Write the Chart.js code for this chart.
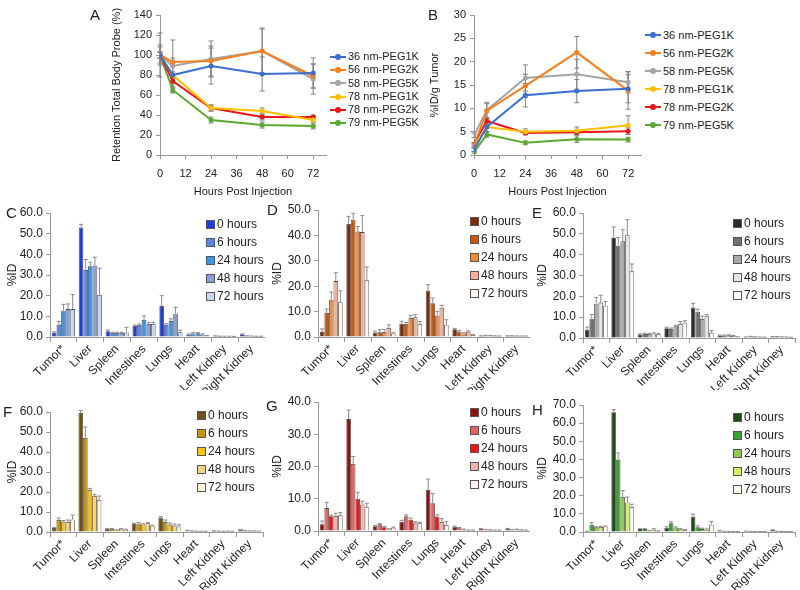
<!DOCTYPE html>
<html>
<head>
<meta charset="utf-8">
<script src="https://cdn.jsdelivr.net/npm/chart.js@4.4.0/dist/chart.umd.min.js"></script>
<style>
body{margin:0;background:#fff;width:800px;height:590px;position:relative;overflow:hidden;font-family:"Liberation Sans",Arial,sans-serif;color:#222}
canvas{position:absolute}
.letter{position:absolute;font-size:15px}
.leg{position:absolute;font-size:12px;line-height:18px}
.leg div{white-space:nowrap;display:flex;align-items:center}
.sw{display:inline-block;width:7px;height:7px;border:1px solid #555;margin-right:2px}
.ln{display:inline-block;width:16px;height:2px;position:relative;margin-right:2px}
.ln i{position:absolute;left:5px;top:-2px;width:6px;height:6px;border-radius:50%;background:inherit}
</style>
</head>
<body>
<canvas id="cA" width="330" height="200" style="left:0;top:0"></canvas>
<canvas id="cB" width="245" height="200" style="left:400px;top:0"></canvas>
<canvas id="cC" width="265" height="195" style="left:0;top:195px"></canvas>
<canvas id="cD" width="265" height="195" style="left:265px;top:195px"></canvas>
<canvas id="cE" width="270" height="195" style="left:530px;top:195px"></canvas>
<canvas id="cF" width="265" height="200" style="left:0;top:390px"></canvas>
<canvas id="cG" width="265" height="200" style="left:265px;top:390px"></canvas>
<canvas id="cH" width="270" height="200" style="left:530px;top:390px"></canvas>

<div class="letter" style="left:90px;top:6px">A</div>
<div class="letter" style="left:428px;top:6px">B</div>
<div class="letter" style="left:6px;top:204px">C</div>
<div class="letter" style="left:267px;top:201px">D</div>
<div class="letter" style="left:532px;top:204px">E</div>
<div class="letter" style="left:3px;top:403px">F</div>
<div class="letter" style="left:266px;top:397px">G</div>
<div class="letter" style="left:532px;top:401px">H</div>

<div class="leg" id="legA" style="left:330px;top:50px;font-size:11px;line-height:13.3px"></div>
<div class="leg" id="legB" style="left:645px;top:26px;font-size:11px;line-height:18px"></div>
<div class="leg" id="legC" style="left:206px;top:215px"></div>
<div class="leg" id="legD" style="left:470px;top:212px"></div>
<div class="leg" id="legE" style="left:733px;top:214px"></div>
<div class="leg" id="legF" style="left:197px;top:406px"></div>
<div class="leg" id="legG" style="left:470px;top:403px"></div>
<div class="leg" id="legH" style="left:733px;top:408px"></div>

<script>
// time course (A, B)
const hours = [0, 6, 24, 48, 72];
const hourTicks = [0, 12, 24, 36, 48, 60, 72];
const probes = ['36 nm-PEG1K', '56 nm-PEG2K', '58 nm-PEG5K', '78 nm-PEG1K', '78 nm-PEG2K', '79 nm-PEG5K'];
const lineColors = ['#3d6fd1', '#f5801e', '#a5a5a5', '#ffc000', '#e81818', '#5aaa32'];

const retention = [
  [100, 80, 89, 81, 82],
  [100, 93, 94, 104, 79],
  [100, 89, 96, 104, 76],
  [100, 80, 47, 44, 35],
  [100, 74, 47, 38, 38],
  [100, 65, 35, 30, 29]
];
const retentionErr = [
  [22, 12, 18, 17, 15],
  [8, 4, 15, 22, 12],
  [10, 26, 18, 23, 15],
  [3, 3, 3, 3, 2],
  [3, 3, 3, 3, 2],
  [3, 3, 3, 3, 3]
];
const tumorId = [
  [1.2, 6.0, 12.8, 13.7, 14.2],
  [2.0, 9.5, 14.8, 22.0, 13.8],
  [4.2, 9.6, 16.5, 17.3, 15.6],
  [1.8, 6.0, 5.0, 5.2, 6.4],
  [2.4, 7.3, 4.7, 4.9, 5.1],
  [0.6, 4.4, 2.6, 3.4, 3.3]
];
const tumorIdErr = [
  [0.5, 1.0, 2.5, 2.5, 3.0],
  [0.5, 1.5, 2.5, 3.4, 4.0],
  [0.5, 1.7, 2.8, 3.2, 2.3],
  [0.3, 1.0, 0.6, 0.8, 2.0],
  [0.3, 0.6, 0.4, 0.6, 0.7],
  [0.2, 0.6, 0.4, 0.7, 0.5]
];

// biodistribution (C-H), one row per time point, one value per organ
const organs = ['Tumor*', 'Liver', 'Spleen', 'Intestines', 'Lungs', 'Heart', 'Left Kidney', 'Right Kidney'];
const timeLabels = ['0 hours', '6 hours', '24 hours', '48 hours', '72 hours'];

const valuesC = [
  [2.0, 53.0, 2.8, 5.3, 15.0, 1.2, 0.5, 1.3],
  [6.0, 32.5, 2.0, 5.8, 5.8, 1.7, 0.3, 0.5],
  [12.8, 34.2, 2.0, 8.2, 7.8, 1.8, 0.3, 0.4],
  [13.5, 34.6, 2.0, 6.3, 11.3, 1.2, 0.3, 0.3],
  [13.5, 20.3, 2.2, 6.3, 2.3, 0.6, 0.2, 0.3]
];
const errC = [
  [0.5, 1.5, 0.6, 0.5, 5.0, 0.3, 0.1, 0.2],
  [1.5, 5.0, 0.3, 0.5, 0.6, 0.5, 0.1, 0.1],
  [3.0, 2.0, 0.3, 2.0, 1.0, 0.3, 0.1, 0.1],
  [2.5, 4.0, 0.3, 0.8, 3.0, 0.3, 0.1, 0.1],
  [7.0, 13.0, 2.5, 0.8, 1.0, 0.2, 0.1, 0.1]
];
const valuesD = [
  [2.0, 44.5, 1.8, 5.2, 18.3, 3.1, 0.4, 0.4],
  [9.5, 46.2, 1.9, 5.2, 13.3, 2.2, 0.6, 0.4],
  [14.7, 41.5, 2.0, 7.5, 8.5, 1.4, 0.5, 0.3],
  [22.0, 41.3, 3.6, 7.8, 11.5, 2.1, 0.4, 0.3],
  [13.7, 22.3, 1.4, 5.1, 4.8, 0.8, 0.3, 0.3]
];
const errD = [
  [1.2, 3.0, 0.5, 1.0, 2.3, 0.3, 0.1, 0.1],
  [1.5, 2.5, 1.0, 0.5, 2.0, 0.3, 0.1, 0.1],
  [3.0, 2.0, 1.0, 1.0, 1.5, 0.3, 0.1, 0.1],
  [3.3, 6.5, 1.2, 1.0, 1.0, 0.3, 0.1, 0.1],
  [4.5, 5.3, 0.3, 1.0, 2.0, 0.2, 0.1, 0.1]
];
const valuesE = [
  [4.0, 48.3, 1.7, 4.7, 14.6, 1.2, 0.4, 0.6],
  [9.3, 44.3, 2.0, 4.3, 12.6, 1.2, 0.7, 0.6],
  [16.5, 46.5, 1.9, 5.6, 9.2, 1.3, 0.5, 0.5],
  [17.0, 49.3, 2.2, 6.7, 10.5, 1.0, 0.4, 0.4],
  [15.5, 32.0, 1.8, 7.3, 2.6, 0.4, 0.3, 0.3]
];
const errE = [
  [1.2, 5.0, 0.3, 0.5, 2.0, 0.2, 0.1, 0.1],
  [2.0, 4.0, 0.3, 0.5, 1.2, 0.2, 0.1, 0.1],
  [3.0, 5.5, 0.3, 0.5, 1.3, 0.2, 0.1, 0.1],
  [3.5, 7.5, 0.3, 1.2, 0.8, 0.2, 0.1, 0.1],
  [2.0, 3.5, 0.3, 1.0, 1.0, 0.2, 0.1, 0.1]
];
const valuesF = [
  [2.0, 59.5, 1.6, 4.0, 7.2, 0.8, 0.5, 1.2],
  [6.0, 47.0, 1.5, 4.3, 5.0, 0.5, 0.4, 0.6],
  [5.2, 21.0, 0.9, 3.8, 3.7, 0.3, 0.3, 0.5],
  [5.0, 18.0, 1.6, 4.4, 3.2, 0.3, 0.4, 0.5],
  [6.3, 16.0, 1.2, 3.1, 2.8, 0.3, 0.3, 0.4]
];
const errF = [
  [0.3, 1.2, 0.2, 0.4, 0.5, 0.1, 0.1, 0.1],
  [1.0, 5.5, 0.2, 0.5, 1.0, 0.1, 0.1, 0.1],
  [0.5, 0.8, 0.2, 0.3, 0.8, 0.1, 0.1, 0.1],
  [1.0, 0.8, 0.2, 0.4, 0.8, 0.1, 0.1, 0.1],
  [2.2, 2.0, 0.2, 0.3, 0.8, 0.1, 0.1, 0.1]
];
const valuesG = [
  [2.1, 34.7, 1.5, 2.9, 12.7, 1.3, 0.7, 0.7],
  [7.1, 20.8, 2.1, 4.6, 8.6, 1.0, 0.4, 0.4],
  [4.6, 10.0, 1.2, 3.5, 4.5, 0.5, 0.3, 0.5],
  [4.7, 8.2, 0.5, 2.6, 2.8, 0.2, 0.2, 0.3],
  [4.9, 7.4, 1.0, 2.4, 1.9, 0.2, 0.2, 0.2]
];
const errG = [
  [1.0, 2.8, 0.2, 0.4, 3.4, 0.2, 0.1, 0.1],
  [1.8, 2.3, 0.2, 0.4, 3.0, 0.1, 0.1, 0.1],
  [0.3, 2.0, 0.2, 0.5, 0.5, 0.1, 0.1, 0.1],
  [0.8, 1.0, 0.2, 0.3, 1.0, 0.1, 0.1, 0.1],
  [0.8, 1.2, 0.2, 0.3, 1.0, 0.1, 0.1, 0.1]
];
const valuesH = [
  [0.3, 66.0, 1.6, 2.4, 8.4, 0.8, 0.4, 1.1],
  [4.2, 40.0, 1.6, 4.8, 2.6, 0.3, 0.3, 0.3],
  [2.6, 19.3, 0.7, 2.5, 1.6, 0.2, 0.2, 0.2],
  [2.8, 16.3, 1.2, 1.5, 1.2, 0.2, 0.2, 0.2],
  [3.0, 13.8, 0.5, 1.1, 4.0, 0.2, 0.2, 0.2]
];
const errH = [
  [0.1, 1.5, 0.2, 0.5, 1.5, 0.1, 0.1, 0.1],
  [1.0, 3.5, 0.2, 0.8, 0.8, 0.1, 0.1, 0.1],
  [0.3, 3.5, 0.2, 0.3, 0.5, 0.1, 0.1, 0.1],
  [0.3, 3.0, 0.6, 0.3, 0.5, 0.1, 0.1, 0.1],
  [0.3, 1.5, 0.2, 0.3, 1.8, 0.1, 0.1, 0.1]
];

const colorsC = ['#1e3fd8', '#5a86e6', '#3a96e6', '#8b9ed6', '#c9d5f2'];
const colorsD = ['#7a2c0c', '#c9560e', '#f28a3c', '#f5b09a', '#fff4ee'];
const colorsE = ['#2b2b2b', '#707070', '#a9a9a9', '#e6e6e6', '#ffffff'];
const colorsF = ['#6e5012', '#c8940c', '#f7c600', '#f5d27c', '#fdf3d8'];
const colorsG = ['#8c1212', '#e46464', '#f01414', '#f7b2aa', '#fff2f2'];
const colorsH = ['#1f4c16', '#38a232', '#8ec852', '#d8ee62', '#f6fbea'];

// error bars drawn from the y scale of each chart
function drawErrors(chart, opts) {
  const ctx = chart.ctx, y = chart.scales.y;
  ctx.save();
  ctx.strokeStyle = opts.color;
  ctx.lineWidth = 1;
  chart.data.datasets.forEach((ds, di) => {
    if (!ds.err) return;
    chart.getDatasetMeta(di).data.forEach((el, i) => {
      const v = ds.data[i];
      const val = typeof v === 'object' ? v.y : v;
      const e = ds.err[i];
      const top = y.getPixelForValue(val + e);
      const bot = opts.both ? y.getPixelForValue(val - e) : el.y;
      ctx.beginPath();
      ctx.moveTo(el.x, top); ctx.lineTo(el.x, bot);
      ctx.moveTo(el.x - opts.cap, top); ctx.lineTo(el.x + opts.cap, top);
      if (opts.both) { ctx.moveTo(el.x - opts.cap, bot); ctx.lineTo(el.x + opts.cap, bot); }
      ctx.stroke();
    });
  });
  ctx.restore();
}
const errorBars = {
  id: 'errorBars',
  beforeDatasetsDraw(chart, args, opts) { if (opts.behind) drawErrors(chart, opts); },
  afterDatasetsDraw(chart, args, opts) { if (!opts.behind) drawErrors(chart, opts); }
};

const axisGray = '#999';

function lineChart(id, padLeft, yWidth, yMax, yStep, series, errs, yTitle) {
  new Chart(document.getElementById(id), {
    type: 'line',
    data: {
      datasets: series.map((s, k) => ({
        label: probes[k],
        data: s.map((v, i) => ({ x: hours[i], y: v })),
        err: errs[k],
        borderColor: lineColors[k],
        backgroundColor: lineColors[k],
        borderWidth: 2,
        pointRadius: 2.5,
        pointBorderWidth: 0,
        tension: 0
      }))
    },
    options: {
      responsive: false,
      animation: false,
      layout: { padding: { left: padLeft, top: 15, right: 2, bottom: 0 } },
      plugins: {
        legend: { display: false },
        tooltip: { enabled: false },
        errorBars: { color: '#808080', cap: 2.5, both: true, behind: true }
      },
      scales: {
        x: {
          type: 'linear', min: 0, max: 78,
          afterBuildTicks: s => { s.ticks = hourTicks.map(v => ({ value: v })); },
          ticks: { color: '#222', font: { size: 11 }, padding: 8 },
          grid: { drawOnChartArea: false, tickLength: 4, color: axisGray },
          border: { color: axisGray },
          title: { display: true, text: 'Hours Post Injection', color: '#222', font: { size: 11 }, padding: { top: 6, bottom: 1 } },
          afterFit: s => { s.height = 45; }
        },
        y: {
          min: 0, max: yMax,
          ticks: { stepSize: yStep, color: '#222', font: { size: 11 }, padding: 4 },
          grid: { drawOnChartArea: false, tickLength: 4, color: axisGray },
          border: { color: axisGray },
          title: { display: true, text: yTitle, color: '#222', font: { size: 11 }, padding: 0 },
          afterFit: s => { s.width = yWidth; }
        }
      }
    },
    plugins: [errorBars]
  });
}

function barChart(id, yWidth, padTop, padRight, xHeight, yMax, series, errs, colors) {
  new Chart(document.getElementById(id), {
    type: 'bar',
    data: {
      labels: organs,
      datasets: series.map((s, k) => ({
        label: timeLabels[k],
        data: s,
        err: errs[k],
        backgroundColor: colors[k],
        borderColor: '#444',
        borderWidth: 0.8,
        categoryPercentage: 0.86,
        barPercentage: 1
      }))
    },
    options: {
      responsive: false,
      animation: false,
      layout: { padding: { left: 0, top: padTop, right: padRight, bottom: 0 } },
      plugins: {
        legend: { display: false },
        tooltip: { enabled: false },
        errorBars: { color: '#8a8a8a', cap: 2, both: false, behind: false }
      },
      scales: {
        x: {
          ticks: { minRotation: 45, maxRotation: 45, color: '#222', font: { size: 12 }, padding: 0 },
          grid: { offset: true, drawOnChartArea: false, tickLength: 5, color: axisGray },
          border: { color: axisGray },
          afterFit: s => { s.height = xHeight; }
        },
        y: {
          min: 0, max: yMax,
          ticks: { stepSize: 10, callback: v => v.toFixed(1), color: '#222', font: { size: 12 }, padding: 3 },
          grid: { drawOnChartArea: false, tickLength: 4, color: axisGray },
          border: { color: axisGray },
          title: { display: true, text: '%ID', color: '#222', font: { size: 12 }, padding: { top: 5, bottom: 0 } },
          afterFit: s => { s.width = yWidth; }
        }
      }
    },
    plugins: [errorBars]
  });
}

function lineLegend(id) {
  document.getElementById(id).innerHTML = probes.map((p, k) =>
    '<div><span class="ln" style="background:' + lineColors[k] + '"><i></i></span>' + p + '</div>').join('');
}
function barLegend(id, colors) {
  document.getElementById(id).innerHTML = timeLabels.map((t, k) =>
    '<div><span class="sw" style="background:' + colors[k] + '"></span>' + t + '</div>').join('');
}

lineChart('cA', 110, 50, 140, 20, retention, retentionErr, 'Retention Total Body Probe (%)');
lineChart('cB', 28, 46, 30, 5, tumorId, tumorIdErr, '%ID/g Tumor');
barChart('cC', 50, 18, 0, 53, 60, valuesC, errC, colorsC);
barChart('cD', 53, 15, 0, 53, 50, valuesD, errD, colorsD);
barChart('cE', 53, 18, 5, 52, 60, valuesE, errE, colorsE);
barChart('cF', 50, 22, 2, 58, 60, valuesF, errF, colorsF);
barChart('cG', 53, 12, 0, 59, 40, valuesG, errG, colorsG);
barChart('cH', 53, 15, 5, 58, 70, valuesH, errH, colorsH);

lineLegend('legA');
lineLegend('legB');
barLegend('legC', colorsC);
barLegend('legD', colorsD);
barLegend('legE', colorsE);
barLegend('legF', colorsF);
barLegend('legG', colorsG);
barLegend('legH', colorsH);
</script>
</body>
</html>
